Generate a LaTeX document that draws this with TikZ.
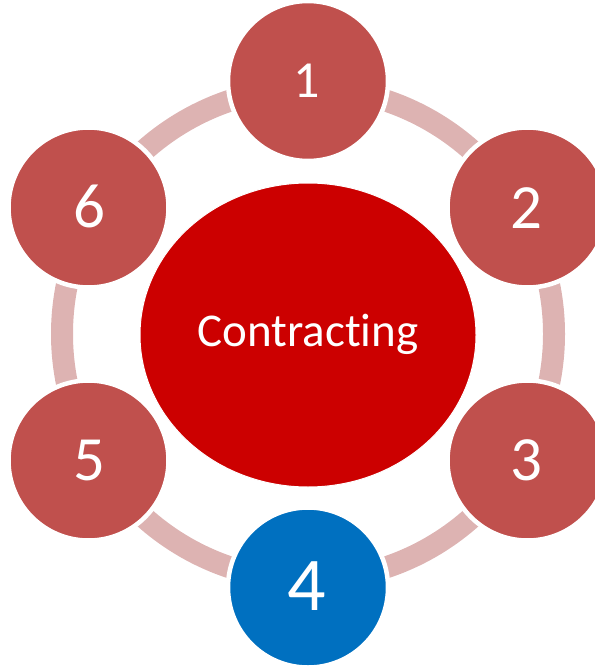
\documentclass[tikz,border=0pt]{standalone}
\usepackage{fontspec}
\setmainfont{Carlito}[Ligatures={NoCommon}]
\usetikzlibrary{shapes.geometric}
\definecolor{ringc}{RGB}{221,179,178}
\definecolor{stepred}{RGB}{192,80,77}
\definecolor{centerred}{RGB}{204,0,0}
\definecolor{stepblue}{RGB}{0,112,192}
\tikzset{
  stepcirc/.style={circle, fill=stepred, draw=white, line width=4.5pt, minimum size=160pt, inner sep=0pt},
  digit/.style={text=white, inner sep=0pt, anchor=base},
}
\begin{document}
\begin{tikzpicture}[x=1pt,y=-1pt]
\useasboundingbox (0,0) rectangle (594,666);
\coordinate (c) at (308,334);
% ring
\draw[ringc, line width=22pt] (c) circle[radius=246];
% center ellipse
\node[ellipse, fill=centerred, draw=white, line width=1pt, minimum width=336pt, minimum height=304pt, inner sep=0pt] (mid) at (308,335) {};
\node[digit, font=\fontsize{47}{47}\selectfont] (midtext) at (308,346) {Contracting};
% step circles
\node[stepcirc] (s1) at (308,81) {};
\node[stepcirc] (s2) at (527.5,207.5) {};
\node[stepcirc] (s3) at (527.5,460.5) {};
\node[stepcirc, fill=stepblue] (s4) at (308,587.5) {};
\node[stepcirc] (s5) at (88.5,460.5) {};
\node[stepcirc] (s6) at (88.5,207.5) {};
% digits
\node[digit, font=\fontsize{52}{52}\selectfont] (t1) at (307,97.5) {1};
\node[digit, font=\fontsize{63}{63}\selectfont] (t2) at (526,228) {2};
\node[digit, font=\fontsize{63}{63}\selectfont] (t3) at (526,480.5) {3};
\node[digit, font=\fontsize{76}{76}\selectfont] (t4) at (307,610) {4};
\node[digit, font=\fontsize{63}{63}\selectfont] (t5) at (89,480.5) {5};
\node[digit, font=\fontsize{63}{63}\selectfont] (t6) at (89,227) {6};
\end{tikzpicture}
\end{document}
